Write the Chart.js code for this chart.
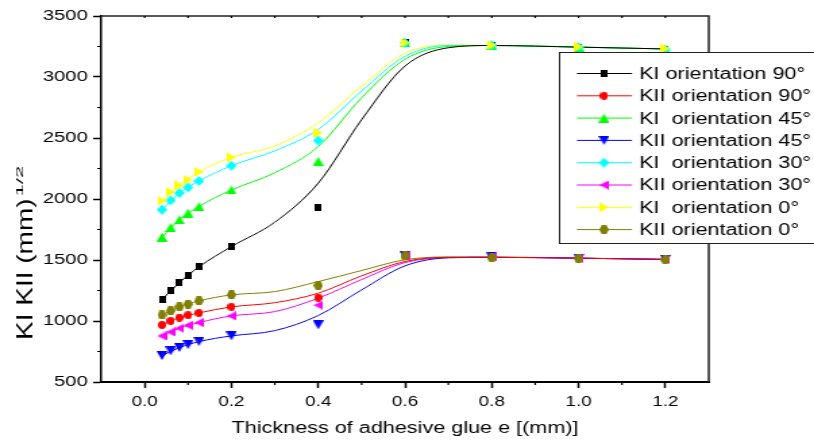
<!DOCTYPE html>
<html>
<head>
<meta charset="utf-8">
<script src="https://cdn.jsdelivr.net/npm/chart.js@4.4.1/dist/chart.umd.min.js"></script>
<style>
  html, body { margin: 0; padding: 0; background: #fff; overflow: hidden; }
  /* the original picture is drawn with wide text, so the canvas is stretched sideways */
  #wrap { width: 603px; height: 441px; transform: scaleX(1.35); transform-origin: 0 0; }
</style>
</head>
<body>
<div id="wrap"><canvas id="chart" width="603" height="441"></canvas></div>
<script>
// measured points
var thickness = [0.04, 0.06, 0.08, 0.1, 0.125, 0.2, 0.4, 0.6, 0.8, 1.0, 1.2];
var ki90  = [1176, 1253, 1315, 1370, 1444, 1608, 1931, 3280, 3260, 3245, 3225];
var kii90 = [968, 1001, 1028, 1048, 1066, 1116, 1192, 1535, 1525, 1515, 1505];
var ki45  = [1688, 1767, 1830, 1885, 1939, 2074, 2309, 3280, 3260, 3245, 3225];
var kii45 = [716, 755, 782, 806, 831, 878, 968, 1535, 1525, 1515, 1505];
var ki30  = [1912, 1989, 2049, 2095, 2148, 2273, 2479, 3280, 3260, 3245, 3225];
var kii30 = [878, 910, 941, 965, 987, 1042, 1130, 1535, 1525, 1515, 1505];
var ki0   = [1986, 2057, 2112, 2158, 2222, 2342, 2542, 3281, 3261, 3248, 3234];
var kii0  = [1050, 1085, 1116, 1138, 1165, 1214, 1291, 1534, 1518, 1510, 1502];

// fitted curves
var fitX     = [0.04, 0.08, 0.125, 0.2, 0.3, 0.4, 0.5, 0.6, 0.7, 0.8, 1.0, 1.2];
var fitKi90  = [1176, 1315, 1444, 1610, 1810, 2130, 2650, 3090, 3240, 3258, 3245, 3230];
var fitKii90 = [968, 1028, 1066, 1116, 1150, 1228, 1370, 1488, 1522, 1522, 1515, 1505];
var fitKi45  = [1688, 1830, 1939, 2074, 2215, 2430, 2830, 3145, 3250, 3258, 3245, 3230];
var fitKii45 = [716, 782, 831, 878, 921, 1045, 1255, 1452, 1518, 1522, 1515, 1505];
var fitKi30  = [1912, 2049, 2148, 2273, 2395, 2570, 2885, 3170, 3258, 3258, 3245, 3230];
var fitKii30 = [878, 941, 987, 1042, 1077, 1187, 1340, 1479, 1520, 1522, 1515, 1505];
var fitKi0   = [1986, 2112, 2222, 2342, 2435, 2625, 2925, 3195, 3262, 3260, 3245, 3230];
var fitKii0  = [1050, 1116, 1165, 1214, 1241, 1323, 1414, 1502, 1525, 1525, 1515, 1505];

var xMajor = [0, 0.2, 0.4, 0.6, 0.8, 1.0, 1.2];
var xMinor = [0.1, 0.3, 0.5, 0.7, 0.9, 1.1];
var yMajor = [500, 1000, 1500, 2000, 2500, 3000, 3500];
var yMinor = [750, 1250, 1750, 2250, 2750, 3250];

var labels = ['KI orientation 90°', 'KII orientation 90°', 'KI  orientation 45°', 'KII orientation 45°',
              'KI  orientation 30°', 'KII orientation 30°', 'KI  orientation 0°', 'KII orientation 0°'];
var colors = ['#000000', '#ff0000', '#00ff00', '#0000ff', '#00ffff', '#ff00ff', '#ffff00', '#808000'];
var shapes = ['square', 'circle', 'up', 'down', 'diamond', 'left', 'right', 'hexagon'];
var points = [ki90, kii90, ki45, kii45, ki30, kii30, ki0, kii0];
var fits = [fitKi90, fitKii90, fitKi45, fitKii45, fitKi30, fitKii30, fitKi0, fitKii0];

var FONT = "'Liberation Sans', Arial, sans-serif";

// little marker images (narrower than tall, the canvas gets stretched)
function marker(shape, color) {
    var sizes = {square: [5, 7], circle: [6, 8], up: [8, 9], down: [8, 9], diamond: [8, 10],
                 left: [7, 9], right: [7, 10], hexagon: [7, 9]};
    var w = sizes[shape][0], h = sizes[shape][1];
    var c = document.createElement('canvas');
    c.width = w; c.height = h;
    var g = c.getContext('2d');
    g.fillStyle = color;
    g.beginPath();
    if (shape == 'square') g.rect(0, 0, w, h);
    if (shape == 'circle') g.ellipse(w / 2, h / 2, w / 2, h / 2, 0, 0, Math.PI * 2);
    if (shape == 'up') { g.moveTo(w / 2, 0); g.lineTo(w, h); g.lineTo(0, h); }
    if (shape == 'down') { g.moveTo(0, 0); g.lineTo(w, 0); g.lineTo(w / 2, h); }
    if (shape == 'left') { g.moveTo(0, h / 2); g.lineTo(w, 0); g.lineTo(w, h); }
    if (shape == 'right') { g.moveTo(0, 0); g.lineTo(w, h / 2); g.lineTo(0, h); }
    if (shape == 'diamond') { g.moveTo(w / 2, 0); g.lineTo(w, h / 2); g.lineTo(w / 2, h); g.lineTo(0, h / 2); }
    if (shape == 'hexagon') {
        g.moveTo(w * 0.25, 0); g.lineTo(w * 0.75, 0); g.lineTo(w, h / 2);
        g.lineTo(w * 0.75, h); g.lineTo(w * 0.25, h); g.lineTo(0, h / 2);
    }
    g.closePath();
    g.fill();
    return c;
}
var markers = shapes.map(function(s, i){ return marker(s, colors[i]); });

var datasets = [];
for (var i = 0; i < labels.length; i++) {
    (function(i){
        datasets.push({
            label: labels[i],
            data: thickness.map(function(t, k){ return {x: t, y: points[i][k]}; }),
            showLine: false,
            pointStyle: markers[i],
            pointRadius: 4,
            borderColor: colors[i],
            backgroundColor: colors[i],
            order: 8 - i
        });
        datasets.push({
            label: labels[i] + ' fit',
            data: fitX.map(function(t, k){ return {x: t, y: fits[i][k]}; }),
            showLine: true,
            pointRadius: 0,
            borderColor: colors[i],
            borderWidth: 1,
            cubicInterpolationMode: 'monotone',
            fill: false,
            order: 20 + i
        });
    })(i);
}

// box round the plot, minor ticks
var frame = {
    id: 'frame',
    afterDatasetsDraw: function(chart) {
        var ctx = chart.ctx, a = chart.chartArea, x = chart.scales.x, y = chart.scales.y;
        ctx.save();
        ctx.strokeStyle = '#222';
        ctx.lineWidth = 1.5;
        ctx.beginPath();
        ctx.moveTo(a.left, a.top); ctx.lineTo(a.right, a.top); ctx.lineTo(a.right, a.bottom);
        ctx.stroke();
        ctx.strokeStyle = '#000';
        ctx.lineWidth = 1.2;
        ctx.beginPath();
        xMinor.forEach(function(v){
            var px = x.getPixelForValue(v);
            ctx.moveTo(px, a.bottom); ctx.lineTo(px, a.bottom + 3);
        });
        xMajor.concat(xMinor).forEach(function(v){
            var px = x.getPixelForValue(v);
            ctx.moveTo(px, a.top); ctx.lineTo(px, a.top + 2);
        });
        yMinor.forEach(function(v){
            var py = y.getPixelForValue(v);
            ctx.moveTo(a.left, py); ctx.lineTo(a.left - 3, py);
        });
        ctx.stroke();
        ctx.restore();
    }
};

// legend box with line + marker, and the y title with its superscript
var extras = {
    id: 'extras',
    afterDraw: function(chart) {
        var ctx = chart.ctx;
        ctx.save();
        ctx.fillStyle = '#fff';
        ctx.fillRect(414, 52, 200, 191);
        ctx.strokeStyle = '#222';
        ctx.lineWidth = 1;
        ctx.strokeRect(414.5, 52.5, 200, 191);
        ctx.font = '16px ' + FONT;
        ctx.textBaseline = 'middle';
        for (var i = 0; i < labels.length; i++) {
            var ry = 73.5 + i * 22.3;
            ctx.strokeStyle = colors[i];
            ctx.beginPath();
            ctx.moveTo(427.4, ry); ctx.lineTo(468.2, ry);
            ctx.stroke();
            var m = markers[i];
            ctx.drawImage(m, 447.4 - m.width / 2, ry - m.height / 2);
            ctx.fillStyle = '#000';
            ctx.fillText(labels[i], 473.4, ry + 1);
        }
        ctx.restore();

        ctx.save();
        ctx.fillStyle = '#000';
        ctx.textBaseline = 'alphabetic';
        ctx.font = '20px ' + FONT;
        var main = 'KI KII (mm)';
        var len = ctx.measureText(main).width * 1.4;
        ctx.translate(23.7, 340);
        ctx.rotate(-Math.PI / 2);
        ctx.scale(1.4, 0.78);
        ctx.fillText(main, 0, 0);
        ctx.restore();

        ctx.save();
        ctx.fillStyle = '#000';
        ctx.font = '10px ' + FONT;
        ctx.translate(17, 340 - len - 2);
        ctx.rotate(-Math.PI / 2);
        ctx.scale(2.2, 0.65);
        ctx.fillText('1/2', 0, 0);
        ctx.restore();
    }
};

var ctx = document.getElementById('chart');
var chart = new Chart(ctx, {
    type: 'line',
    data: { datasets: datasets },
    options: {
        responsive: false,
        animation: false,
        layout: { padding: { top: 16, right: 78, left: 0, bottom: 0 } },
        plugins: { legend: { display: false }, tooltip: { enabled: false } },
        scales: {
            x: {
                type: 'linear',
                min: -0.1,
                max: 1.3,
                afterBuildTicks: function(s){ s.ticks = xMajor.map(function(v){ return {value: v}; }); },
                afterFit: function(s){ s.height = 59; },
                ticks: {
                    font: { family: FONT, size: 14 },
                    color: '#000',
                    padding: 6,
                    maxRotation: 0,
                    callback: function(v){ return Number(v).toFixed(1); }
                },
                grid: { drawOnChartArea: false, tickLength: 6, tickWidth: 1.5, tickColor: '#000' },
                border: { color: '#000', width: 2 },
                title: {
                    display: true,
                    text: 'Thickness of adhesive glue e [(mm)]',
                    font: { family: FONT, size: 16 },
                    color: '#000',
                    padding: { top: 0, bottom: 3 }
                }
            },
            y: {
                min: 500,
                max: 3500,
                afterBuildTicks: function(s){ s.ticks = yMajor.map(function(v){ return {value: v}; }); },
                afterFit: function(s){ s.width = 75; },
                ticks: {
                    font: { family: FONT, size: 15 },
                    color: '#000',
                    padding: 4,
                    callback: function(v){ return String(v); }
                },
                grid: { drawOnChartArea: false, tickLength: 6, tickWidth: 1.5, tickColor: '#000' },
                border: { color: '#000', width: 1.5 }
            }
        }
    },
    plugins: [frame, extras]
});
</script>
</body>
</html>
